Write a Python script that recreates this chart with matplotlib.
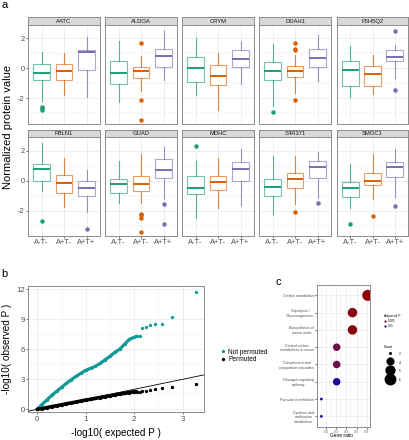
import matplotlib
matplotlib.use("Agg")
import matplotlib.pyplot as plt
from matplotlib.lines import Line2D
from matplotlib.colors import LinearSegmentedColormap, Normalize, to_rgba
import numpy as np

plt.rcParams['font.family'] = ['Liberation Sans', 'DejaVu Sans']

# ---------------- panel a : boxplots per protein ----------------
genes = ["AATC", "ALDOA", "CRYM", "DDAH1", "F5H5Q2",
         "FBLN1", "GUAD", "MDHC", "S4R371", "SMOC1"]
groups = ["A-T-", "A+T-", "A+T+"]
group_colors = ["#1B9E77", "#D95F02", "#7570B3"]

whislo = [[-2.20, -1.80, -1.87], [-2.22, -1.47, -0.80], [-1.76, -2.76, -1.04],
          [-2.53, -1.64, -0.82], [-1.91, -1.69, -0.64], [-0.69, -1.76, -2.11],
          [-1.53, -1.49, -1.24], [-2.53, -1.80, -1.60], [-2.24, -1.56, -1.09],
          [-1.82, -1.22, -1.09]]
q1 = [[-0.76, -0.80, -0.09], [-1.02, -0.64, 0.13], [-0.89, -1.09, 0.07],
      [-0.76, -0.60, 0.09], [-1.16, -1.16, 0.47], [-0.04, -0.82, -1.04],
      [-0.80, -0.69, 0.20], [-0.87, -0.64, -0.02], [-1.00, -0.53, 0.20],
      [-1.13, -0.31, 0.24]]
med = [[-0.27, -0.20, 1.07], [-0.31, -0.20, 0.80], [0.04, -0.47, 0.62],
       [-0.16, -0.20, 0.73], [-0.09, -0.36, 0.76], [0.80, -0.16, -0.49],
       [-0.20, -0.20, 0.73], [-0.47, -0.11, 0.80], [-0.42, 0.11, 0.91],
       [-0.51, -0.04, 0.89]]
q3 = [[0.31, 0.31, 1.24], [0.51, 0.13, 1.29], [0.76, 0.20, 1.24],
      [0.40, 0.18, 1.29], [0.53, 0.18, 1.20], [1.07, 0.36, 0.00],
      [0.13, 0.29, 1.42], [0.29, 0.29, 1.24], [0.11, 0.53, 1.29],
      [-0.11, 0.53, 1.24]]
whishi = [[1.13, 1.00, 2.07], [1.82, 0.80, 2.47], [2.02, 1.02, 1.76],
          [1.64, 0.91, 2.24], [1.53, 0.91, 1.58], [2.53, 1.47, 0.73],
          [1.29, 1.80, 2.24], [1.29, 1.53, 2.13], [1.62, 1.64, 1.91],
          [1.09, 1.76, 2.09]]
fliers = [[[-2.55, -2.65, -2.75], [], []],
          [[], [1.67, -2.09, -3.42], []],
          [[], [], []],
          [[-2.91], [1.71, 1.33, 1.20, -2.09], []],
          [[], [], [2.49, -1.42]],
          [[-2.69], [], [-3.20]],
          [[], [-2.20, -2.33, -2.49, -3.44], [-1.58, -2.87]],
          [[2.29], [], []],
          [[], [-2.09], [-1.49]],
          [[-2.93], [-2.36], [-1.73]]]

# ---------------- panel b : QQ plot ----------------
qq_expected = [0.0, 0.1, 0.2, 0.3, 0.4, 0.5, 0.6, 0.7, 0.8, 0.9, 1.0, 1.1,
               1.2, 1.3, 1.4, 1.5, 1.6, 1.7, 1.8, 1.9, 2.0, 2.05,
               2.11, 2.16, 2.24, 2.33, 2.43, 2.58, 2.79, 3.27]
obs_not_permuted = [0.0, 0.5, 0.95, 1.4, 1.8, 2.2, 2.6, 2.95, 3.3, 3.6, 3.9, 4.1,
                    4.3, 4.6, 4.95, 5.3, 5.7, 6.0, 6.5, 7.0, 7.2, 7.3,
                    7.33, 8.17, 8.2, 8.4, 8.5, 8.5, 9.27, 11.73]
obs_permuted = [0.0, 0.08, 0.17, 0.27, 0.36, 0.45, 0.55, 0.64, 0.73, 0.83, 0.93, 1.0,
                1.1, 1.18, 1.27, 1.35, 1.45, 1.53, 1.6, 1.68, 1.75, 1.77,
                1.73, 1.8, 1.87, 1.93, 2.0, 2.1, 2.27, 2.53]
n_dense = 22

# ---------------- panel c : KEGG enrichment ----------------
pathways = ["Carbon metabolism", "Glycolysis /\nGluconeogenesis",
            "Biosynthesis of\namino acids", "Central carbon\nmetabolism in cancer",
            "Complement and\ncoagulation cascades", "Glucagon signaling\npathway",
            "Pyruvate metabolism", "Cysteine and\nmethionine\nmetabolism"]
gene_ratio = [0.182, 0.152, 0.152, 0.121, 0.121, 0.121, 0.091, 0.091]
counts = [6, 5, 5, 4, 4, 4, 3, 3]
p_adjust = [0.0028, 0.0036, 0.0036, 0.0062, 0.0062, 0.0098, 0.012, 0.012]
p_legend = [0.005, 0.01]
count_legend = [3, 4, 5, 6]

W, H = 409, 440
fig = plt.figure(figsize=(W / 100, H / 100), dpi=100)


def box(l, t, r, b):
    return [l / W, 1 - b / H, (r - l) / W, (b - t) / H]


GRID = "#EBEBEB"
BORDER = "#8C8C8C"
TICKC = "#4D4D4D"


def style_axes(ax, fs):
    for s in ax.spines.values():
        s.set_color(BORDER)
        s.set_linewidth(0.7)
    ax.tick_params(which="major", length=1.5, width=0.5, color="#333333",
                   labelsize=fs, labelcolor=TICKC, pad=1)
    ax.tick_params(which="minor", length=0)
    ax.grid(which="major", color=GRID, lw=0.6, zorder=0)
    ax.grid(which="minor", color=GRID, lw=0.3, zorder=0)
    ax.set_axisbelow(True)


# panel a
col_x = [(28, 100), (105, 177), (182, 254), (259, 331), (337, 408)]
row_y = [(17, 25, 124), (130, 137, 236)]

for gi, gene in enumerate(genes):
    r, c = divmod(gi, 5)
    l, rr = col_x[c]
    st, at, ab = row_y[r]
    sax = fig.add_axes(box(l, st, rr, at))
    sax.set_facecolor("#D9D9D9")
    sax.set_xticks([])
    sax.set_yticks([])
    for s in sax.spines.values():
        s.set_color(BORDER)
        s.set_linewidth(0.7)
    sax.text(0.5, 0.45, gene, ha="center", va="center", fontsize=4.2,
             color="#1A1A1A", transform=sax.transAxes)

    ax = fig.add_axes(box(l, at, rr, ab))
    style_axes(ax, 5.4)
    for k in range(3):
        stats = [dict(whislo=whislo[gi][k], q1=q1[gi][k], med=med[gi][k],
                      q3=q3[gi][k], whishi=whishi[gi][k], fliers=fliers[gi][k])]
        col = group_colors[k]
        light = to_rgba(col, 0.6)
        ax.bxp(stats, positions=[k + 1], widths=0.75, showcaps=False,
               patch_artist=True,
               boxprops=dict(facecolor="white", edgecolor=light, lw=0.8),
               whiskerprops=dict(color=to_rgba(col, 0.75), lw=0.8),
               medianprops=dict(color=col, lw=1.4),
               flierprops=dict(marker="o", markersize=2.2, markerfacecolor=col,
                               markeredgecolor=col, ls=""))
    ax.set_xlim(0.4, 3.6)
    ax.set_ylim(-3.7, 2.9)
    ax.set_yticks([-2, 0, 2])
    ax.set_yticks([-3, -1, 1], minor=True)
    ax.set_xticks([1, 2, 3])
    if c == 0:
        ax.set_yticklabels(["-2", "0", "2"])
    else:
        ax.tick_params(axis="y", labelleft=False, length=0)
    if r == 1:
        ax.set_xticklabels(groups)
    else:
        ax.tick_params(axis="x", labelbottom=False, length=0)

fig.text(8.5 / W, 1 - 127 / H, "Normalized protein value", rotation=90,
         ha="center", va="center", fontsize=8)

# panel b
bx = fig.add_axes(box(28.3, 286, 204, 412.3))
style_axes(bx, 5.6)
teal = "#129A96"
bx.plot(qq_expected[:n_dense], obs_not_permuted[:n_dense], color=teal,
        lw=2.3, solid_capstyle="round", zorder=3)
bx.plot(qq_expected, obs_not_permuted, "o", color=teal, ms=2.4, mew=0, zorder=3)
bx.plot(qq_expected[:n_dense], obs_permuted[:n_dense], color="black",
        lw=2.6, solid_capstyle="round", zorder=3)
bx.plot(qq_expected, obs_permuted, "o", color="black", ms=2.4, mew=0, zorder=3)
bx.axline((0, 0), slope=1, color="black", lw=0.6, zorder=4)
bx.set_xlim(-0.185, 3.44)
bx.set_ylim(-0.3, 12.33)
bx.set_xticks([0, 1, 2, 3])
bx.set_xticks([0.5, 1.5, 2.5], minor=True)
bx.set_yticks([0, 3, 6, 9, 12])
bx.set_yticks([1.5, 4.5, 7.5, 10.5], minor=True)
fig.text(116 / W, 1 - 433 / H, "-log10( expected P )", ha="center",
         va="center", fontsize=7.2)
fig.text(7.5 / W, 1 - 349 / H, "-log10( observed P )", ha="center",
         va="center", rotation=90, fontsize=7.2)
hb = [Line2D([], [], marker="o", ls="", color=teal, ms=2.4, mew=0),
      Line2D([], [], marker="o", ls="", color="black", ms=2.4, mew=0)]
fig.legend(hb, ["Not permuted", "Permuted"], loc="center left",
           bbox_to_anchor=(221 / W, 1 - 356 / H), frameon=False, fontsize=4.7,
           handlelength=0.7, handletextpad=0.4, labelspacing=0.15,
           borderpad=0, borderaxespad=0)

# panel c
cx = fig.add_axes(box(317.3, 285, 370, 426.7))
style_axes(cx, 1.8)
cmap = LinearSegmentedColormap.from_list(
    "padj", ["#8B0000", "#7A0A45", "#2C0A8E", "#1A0AA8"], N=256)
norm = Normalize(vmin=0.0028, vmax=0.012)


def count_size(n):
    t = (n - 3) / 3.0
    d_px = 2.8 + 8.2 * np.sqrt(t)
    return d_px * 0.72


sizes = [count_size(n) ** 2 for n in counts]
cx.scatter(gene_ratio, pathways, s=sizes, c=p_adjust, cmap=cmap, norm=norm,
           linewidths=0, zorder=3)
cx.set_ylim(7.6, -0.6)
cx.set_xlim(0.083, 0.1864)
cx.set_xticks([0.10, 0.12, 0.14, 0.16, 0.18])
cx.set_xticks([0.09, 0.11, 0.13, 0.15, 0.17], minor=True)
cx.set_xticklabels(["0.10", "0.12", "0.14", "0.16", "0.18"])
cx.tick_params(axis="y", labelsize=2.6, length=1.2)
cx.tick_params(axis="x", length=1.2)
for lab in cx.get_yticklabels():
    lab.set_multialignment("center")
fig.text(341.7 / W, 1 - 435 / H, "Gene ratio", ha="center", va="center",
         fontsize=3.5)

hp = [Line2D([], [], marker="o", ls="", color=cmap(norm(p)), ms=1.6, mew=0)
      for p in p_legend]
fig.legend(hp, [str(p) for p in p_legend], title="Adjusted P",
           loc="upper left", bbox_to_anchor=(384 / W, 1 - 314 / H),
           frameon=False, fontsize=2.2, title_fontsize=2.4,
           handlelength=0.8, handletextpad=0.6, labelspacing=0.3,
           borderpad=0, borderaxespad=0, alignment="left")
hc = [Line2D([], [], marker="o", ls="", color="black",
             ms=count_size(n) * 1.08, mew=0) for n in count_legend]
fig.legend(hc, [str(n) for n in count_legend], title="Count",
           loc="upper left", bbox_to_anchor=(384 / W, 1 - 345 / H),
           frameon=False, fontsize=2.2, title_fontsize=2.4,
           handlelength=4, handletextpad=1.0, labelspacing=0.6,
           handleheight=3.0, borderpad=0, borderaxespad=0,
           alignment="left")

# panel letters
fig.text(1 / W, 1 - 8 / H, "a", fontsize=8, va="baseline")
fig.text(1 / W, 1 - 277 / H, "b", fontsize=8, va="baseline")
fig.text(275 / W, 1 - 285 / H, "c", fontsize=8, va="baseline")

fig.savefig("out.png", dpi=100)
